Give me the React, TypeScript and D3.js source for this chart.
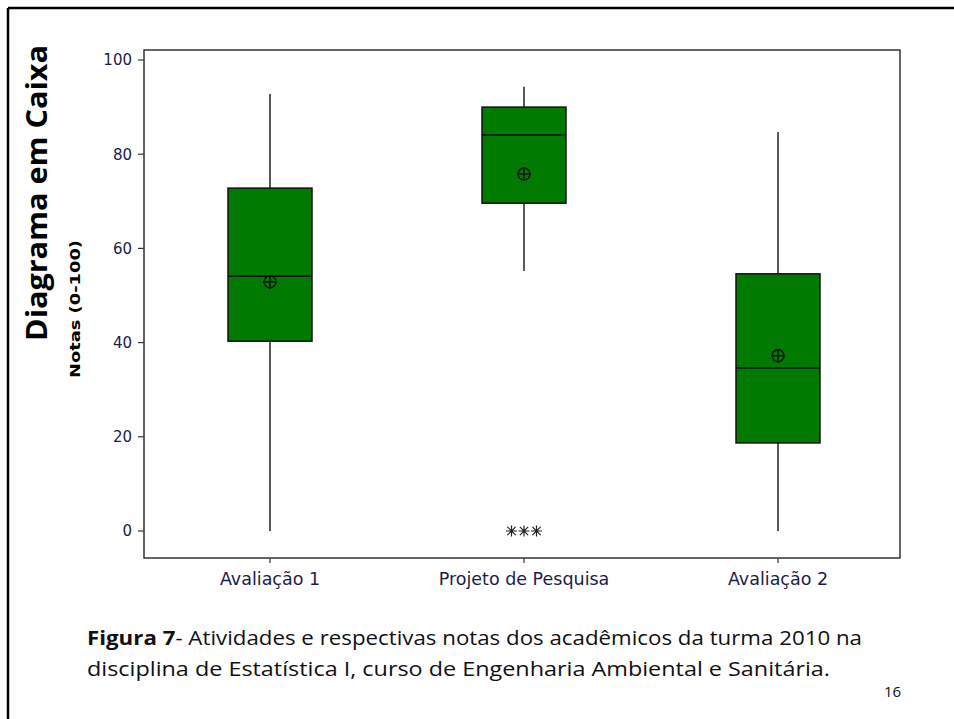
import React from "react";
import * as d3 from "d3";

// Activities (box-plot groups)
const categories = ["Avaliação 1", "Projeto de Pesquisa", "Avaliação 2"];
// Five-number summaries and means per activity
const whiskerLow = [0, 55.2, 0];
const q1 = [40.3, 69.6, 18.7];
const median = [54.1, 84.1, 34.6];
const q3 = [72.8, 90.0, 54.6];
const whiskerHigh = [92.8, 94.3, 84.7];
const means = [52.9, 75.8, 37.2];
// Outlying scores (Projeto de Pesquisa)
const outliers = [
  { group: 1, value: 0 },
  { group: 1, value: 0 },
  { group: 1, value: 0 },
];
const yTicks = [0, 20, 40, 60, 80, 100];

const W = 954;
const H = 719;
const frame = { left: 144, top: 50, right: 900, bottom: 558 };

export default function App() {
  const y = d3.scaleLinear().domain([0, 100]).range([531, 60]);
  const x = d3
    .scalePoint<string>()
    .domain(categories)
    .range([270, 778]);
  const boxW = 84;
  const tickFont = "'DejaVu Sans', sans-serif";
  const captionFont = "'Open Sans', 'Noto Sans', sans-serif";

  // outlier marker: star of four strokes
  const r = 5.5;
  const asterisk = `M${-r},0H${r}M0,${-r}V${r}M${-r * 0.75},${-r * 0.75}L${r * 0.75},${r * 0.75}M${-r * 0.75},${r * 0.75}L${r * 0.75},${-r * 0.75}`;

  // repeated values sit side by side
  const seen = new Map<string, number>();
  const outlierPts = outliers.map((o) => {
    const key = `${o.group}-${o.value}`;
    const n = outliers.filter((p) => p.group === o.group && p.value === o.value).length;
    const i = seen.get(key) ?? 0;
    seen.set(key, i + 1);
    return {
      cx: (x(categories[o.group]) as number) + (i - (n - 1) / 2) * 12.5,
      cy: y(o.value),
    };
  });

  return (
    <svg
      width={W}
      height={H}
      style={{ position: "absolute", left: 0, top: 0, background: "#fff" }}
    >
      {/* slide border */}
      <line x1={8} y1={8} x2={W} y2={8} stroke="#000" strokeWidth={2.5} />
      <line x1={8} y1={8} x2={8} y2={H} stroke="#000" strokeWidth={2.5} />

      {/* slide title */}
      <text
        transform={`translate(47,193) rotate(-90)`}
        textAnchor="middle"
        fontFamily="'Open Sans', 'Noto Sans', sans-serif"
        fontWeight="bold"
        fontSize={28}
        fill="#000"
        textLength={296}
        lengthAdjust="spacingAndGlyphs"
      >
        Diagrama em Caixa
      </text>

      {/* plot frame */}
      <rect
        x={frame.left}
        y={frame.top}
        width={frame.right - frame.left}
        height={frame.bottom - frame.top}
        fill="none"
        stroke="#333"
        strokeWidth={1.5}
      />

      {/* y axis */}
      {yTicks.map((t) => (
        <g key={t}>
          <line x1={frame.left - 6} x2={frame.left} y1={y(t)} y2={y(t)} stroke="#333" strokeWidth={1.2} />
          <text
            x={frame.left - 12}
            y={y(t)}
            dy="0.36em"
            textAnchor="end"
            fontFamily={tickFont}
            fontSize={15}
            fill="#1c1c4c"
          >
            {t}
          </text>
        </g>
      ))}
      <text
        transform={`translate(80,309) rotate(-90)`}
        textAnchor="middle"
        fontFamily={tickFont}
        fontWeight="bold"
        fontSize={14.5}
        fill="#000"
        textLength={138}
        lengthAdjust="spacingAndGlyphs"
      >
        Notas (0-100)
      </text>

      {/* x axis */}
      {categories.map((c) => (
        <g key={c}>
          <line x1={x(c)} x2={x(c)} y1={frame.bottom} y2={frame.bottom + 5} stroke="#333" strokeWidth={1.2} />
          <text
            x={x(c)}
            y={frame.bottom + 27}
            textAnchor="middle"
            fontFamily={tickFont}
            fontSize={17.5}
            fill="#1c1c4c"
          >
            {c}
          </text>
        </g>
      ))}

      {/* boxes */}
      {categories.map((c, i) => {
        const cx = x(c) as number;
        return (
          <g key={c}>
            <line x1={cx} x2={cx} y1={y(whiskerHigh[i])} y2={y(q3[i])} stroke="#222" strokeWidth={1.5} />
            <line x1={cx} x2={cx} y1={y(q1[i])} y2={y(whiskerLow[i])} stroke="#222" strokeWidth={1.5} />
            <rect
              x={cx - boxW / 2}
              y={y(q3[i])}
              width={boxW}
              height={y(q1[i]) - y(q3[i])}
              fill="#007a00"
              stroke="#111"
              strokeWidth={1.5}
            />
            <line
              x1={cx - boxW / 2}
              x2={cx + boxW / 2}
              y1={y(median[i])}
              y2={y(median[i])}
              stroke="#111"
              strokeWidth={1.5}
            />
            {/* mean symbol: circle with cross */}
            <g transform={`translate(${cx},${y(means[i])})`} stroke="#111" strokeWidth={1.4} fill="none">
              <circle r={6} />
              <line x1={-7} x2={7} y1={0} y2={0} />
              <line x1={0} x2={0} y1={-7} y2={7} />
            </g>
          </g>
        );
      })}

      {/* outliers */}
      {outlierPts.map((p, i) => (
        <path
          key={i}
          d={asterisk}
          transform={`translate(${p.cx},${p.cy})`}
          fill="none"
          stroke="#222"
          strokeWidth={1.2}
        />
      ))}

      {/* caption */}
      <text x={87} y={645} fontFamily={captionFont} fontSize={20} fill="#111" textLength={775} lengthAdjust="spacingAndGlyphs">
        <tspan fontWeight="bold">Figura 7</tspan>
        <tspan>- Atividades e respectivas notas dos acadêmicos da turma 2010 na</tspan>
      </text>
      <text x={87} y={676} fontFamily={captionFont} fontSize={20} fill="#111" textLength={743} lengthAdjust="spacingAndGlyphs">
        disciplina de Estatística I, curso de Engenharia Ambiental e Sanitária.
      </text>
      <text x={884} y={697} fontFamily={captionFont} fontSize={15} fill="#111">
        16
      </text>
    </svg>
  );
}
